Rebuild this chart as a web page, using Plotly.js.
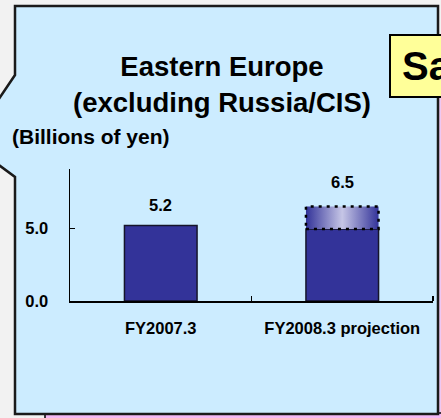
<!DOCTYPE html>
<html>
<head>
<meta charset="utf-8">
<script src="https://cdn.plot.ly/plotly-3.0.1.min.js"></script>
<style>
  html, body { margin: 0; padding: 0; background: #f2f2f2; }
  #chart { width: 441px; height: 418px; }
</style>
</head>
<body>
<div id="chart"></div>
<script>
// ---- data ----
const categories = ['FY2007.3', 'FY2008.3 projection'];
const solidValues = [5.2, 4.95];   // solid dark-blue part of each bar
const totalValues = [5.2, 6.5];    // bar totals (labels above bars)
const valueLabels = ['5.2', '6.5'];
const yTickValues = [0, 5];
const yTickLabels = ['0.0', '5.0'];
const titleText = 'Eastern Europe<br>(excluding Russia/CIS)';
const unitText = '(Billions of yen)';
const sideBoxText = 'Sa';

// ---- geometry of the page (pixels) ----
const W = 441, H = 418;
const M = {l: 70, r: 8, t: 169, b: 117};
const plotW = W - M.l - M.r, plotH = H - M.t - M.b;
const px = x => (x - M.l) / plotW;          // pixel x -> paper x
const py = y => (H - M.b - y) / plotH;      // pixel y -> paper y
const bargap = 0.6;
const half = (1 - bargap) / 2;

const FONT = 'Liberation Sans, Arial, Helvetica, sans-serif';
const barBlue = '#333399';

const traces = [];
traces.push({
  type: 'bar',
  x: categories.map((c, i) => i),
  y: solidValues,
  marker: {color: barBlue, line: {color: '#15152a', width: 1.5}},
  hoverinfo: 'skip',
  showlegend: false
});
// gradient increment boxes (projection above the solid part)
categories.forEach((c, i) => {
  if (totalValues[i] > solidValues[i]) {
    traces.push({
      type: 'scatter',
      mode: 'lines',
      x: [i - half, i + half, i + half, i - half, i - half],
      y: [solidValues[i], solidValues[i], totalValues[i], totalValues[i], solidValues[i]],
      fill: 'toself',
      fillgradient: {
        type: 'horizontal',
        colorscale: [[0, barBlue], [0.5, '#c6c6e6'], [1, barBlue]]
      },
      line: {color: '#000000', width: 2.5, dash: '3px,5px'},
      hoverinfo: 'skip',
      showlegend: false
    });
  }
});

const annotations = valueLabels.map((t, i) => ({
  x: i, y: totalValues[i], xref: 'x', yref: 'y',
  text: t, showarrow: false, yanchor: 'middle',
  yshift: i ? 25 : 20,
  font: {family: FONT, size: 16.5, color: '#000', weight: 700}
}));
annotations.push({
  x: px(91), y: py(136), xref: 'paper', yref: 'paper',
  text: unitText, showarrow: false, xanchor: 'center', yanchor: 'middle',
  font: {family: FONT, size: 21, color: '#000', weight: 700}
});
annotations.push({
  x: px(400), y: py(66), xref: 'paper', yref: 'paper',
  text: sideBoxText, showarrow: false, xanchor: 'left', yanchor: 'middle',
  font: {family: FONT, size: 40, color: '#000', weight: 700}
});

// callout outline (pointer to the left, off-page)
const calloutPts = [[15, 6], [438, 6], [438, 414], [15, 414], [15, 177], [-31, 143], [15, 75]];
const calloutPath = 'M ' + calloutPts.map(p => px(p[0]) + ',' + py(p[1])).join(' L ') + ' Z';

const shapes = [
  // pink strip on the right edge and bottom (neighbouring object)
  {type: 'rect', xref: 'paper', yref: 'paper', layer: 'below',
   x0: px(437), x1: px(445), y0: py(97), y1: py(422),
   fillcolor: '#eec8f2', line: {width: 0}},
  {type: 'rect', xref: 'paper', yref: 'paper', layer: 'below',
   x0: px(45), x1: px(445), y0: py(413), y1: py(422),
   fillcolor: '#f4b8f4', line: {color: '#000', width: 1.5}},
  {type: 'path', xref: 'paper', yref: 'paper', layer: 'below',
   path: calloutPath, fillcolor: '#ccecff', line: {color: '#1a1a1a', width: 2.5}},
  {type: 'rect', xref: 'paper', yref: 'paper', layer: 'below',
   x0: px(390), x1: px(470), y0: py(97), y1: py(35),
   fillcolor: '#ffff99', line: {color: '#000', width: 2}}
];

const layout = {
  width: W, height: H,
  margin: M,
  paper_bgcolor: '#f2f2f2',
  plot_bgcolor: 'rgba(0,0,0,0)',
  showlegend: false,
  bargap: bargap,
  title: {
    text: titleText,
    x: 222 / W, xanchor: 'center', xref: 'container',
    y: 1 - 76 / H, yanchor: 'middle', yref: 'container',
    font: {family: FONT, size: 27.5, color: '#000', weight: 700}
  },
  xaxis: {
    range: [-0.5, categories.length - 0.5],
    tickmode: 'array',
    tickvals: categories.map((c, i) => i),
    ticktext: categories,
    ticks: '',
    ticklabelstandoff: 12,
    showline: true, linecolor: '#000', linewidth: 1.5,
    showgrid: false, zeroline: false,
    minor: {
      tickmode: 'array',
      tickvals: categories.map((c, i) => i + 0.5),
      ticks: 'inside', ticklen: 5, tickwidth: 1.5, tickcolor: '#000',
      showgrid: false
    },
    tickfont: {family: FONT, size: 16.5, color: '#000', weight: 700},
    fixedrange: true
  },
  yaxis: {
    range: [0, 9.08],
    tickmode: 'array',
    tickvals: yTickValues,
    ticktext: yTickLabels,
    ticks: 'inside', ticklen: 5, tickwidth: 1.5, tickcolor: '#000',
    ticklabelstandoff: 17,
    showline: true, linecolor: '#000', linewidth: 1.5,
    showgrid: false, zeroline: false,
    tickfont: {family: FONT, size: 16.5, color: '#000', weight: 700},
    fixedrange: true
  },
  annotations: annotations,
  shapes: shapes
};

Plotly.newPlot('chart', traces, layout, {staticPlot: true, displayModeBar: false});
</script>
</body>
</html>
